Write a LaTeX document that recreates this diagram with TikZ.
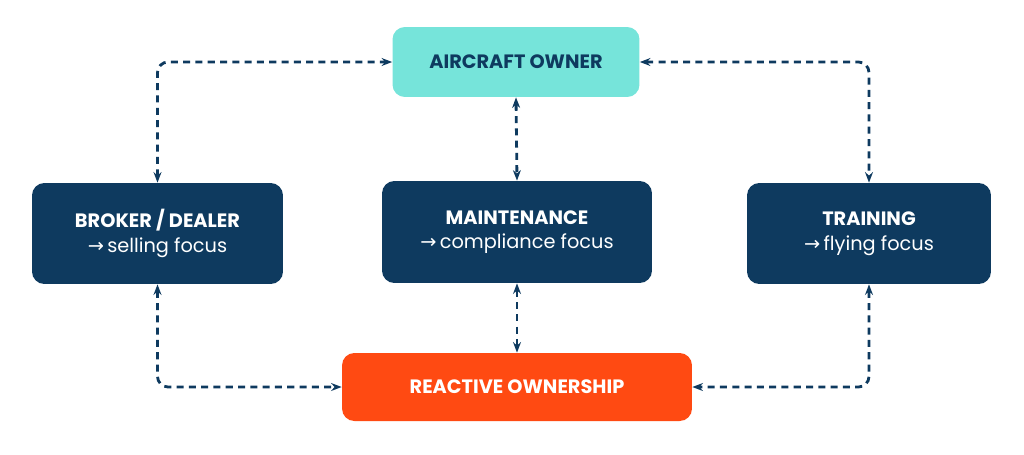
\documentclass[tikz,border=0pt]{standalone}
\usepackage{fontspec}
\setmainfont{Poppins}
\newfontfamily\arrowfont{DejaVu Sans}
\usetikzlibrary{positioning, arrows.meta}
\definecolor{navy}{HTML}{0E3A5F}
\definecolor{teal}{HTML}{76E4DA}
\definecolor{flame}{HTML}{FF4A12}
\newcommand{\toarrow}{{\arrowfont →}\,}

\begin{document}
\begin{tikzpicture}[x=0.02cm, y=-0.02cm,
    box/.style={rectangle, rounded corners=7pt, align=center, font=\fontsize{11}{14}\selectfont},
    link/.style={draw=navy, line width=1.6pt, dash pattern=on 4pt off 3pt, rounded corners=6pt, {Stealth[length=6pt]}-{Stealth[length=6pt]}}]
    \useasboundingbox (0,0) rectangle (1024,454);

    \node[box, fill=teal, text=navy, minimum width=4.94cm, minimum height=1.4cm] (owner) at (516, 62) {\textbf{AIRCRAFT OWNER}};
    \node[box, fill=navy, text=white, minimum width=5.02cm, minimum height=2.02cm] (broker) at (157.5, 233.5) {\textbf{BROKER / DEALER}\\\toarrow selling focus};
    \node[box, fill=navy, text=white, minimum width=5.4cm, minimum height=2.04cm] (maint) at (517, 232) {\textbf{MAINTENANCE}\\\toarrow compliance focus};
    \node[box, fill=navy, text=white, minimum width=4.88cm, minimum height=2.02cm] (training) at (869, 233.5) {\textbf{TRAINING}\\\toarrow flying focus};
    \node[box, fill=flame, text=white, minimum width=7cm, minimum height=1.36cm] (reactive) at (517, 387) {\textbf{REACTIVE OWNERSHIP}};

    \draw[link] (broker.north) |- (owner.west);
    \draw[link] (owner.east) -| (training.north);
    \draw[link] (owner.south) -- (maint.north);
    \draw[link] (maint.south) -- (reactive.north);
    \draw[link] (broker.south) |- (reactive.west);
    \draw[link] (training.south) |- (reactive.east);
\end{tikzpicture}
\end{document}
